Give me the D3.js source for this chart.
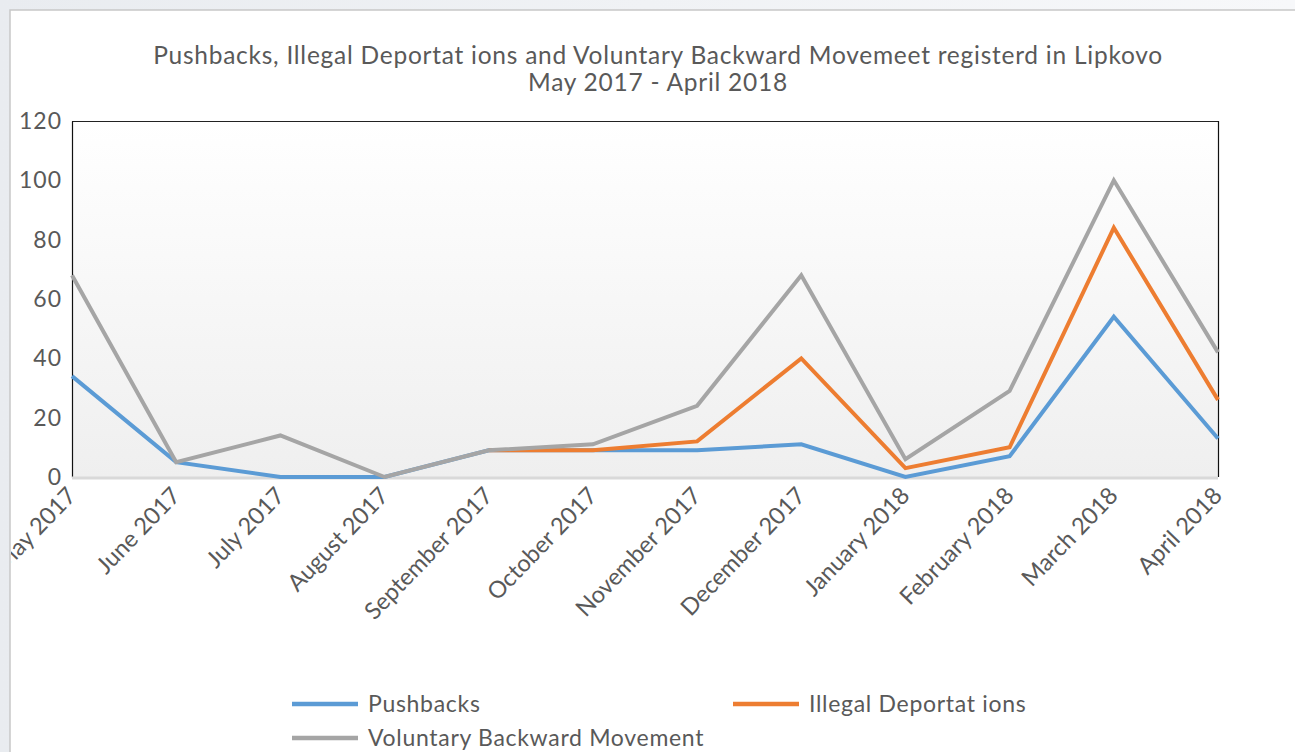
<!DOCTYPE html>
<html><head><meta charset="utf-8">
<script src="https://cdn.jsdelivr.net/npm/d3@7"></script>
<style>
html,body{margin:0;padding:0;background:#fff;}
svg{display:block;}
</style></head>
<body>
<svg id="c" width="1295" height="752"></svg>
<script>
const categories = ["May 2017","June 2017","July 2017","August 2017","September 2017","October 2017","November 2017","December 2017","January 2018","February 2018","March 2018","April 2018"];
const pushbacks = [34,5,0,0,9,9,9,11,0,7,54,13];
const illegalDeportations = [null,null,null,null,9,9,12,40,3,10,84,26];
const voluntaryBackward = [68,5,14,0,9,11,24,68,6,29,100,42];
const seriesNames = ["Pushbacks","Illegal Deportat ions","Voluntary Backward Movement"];
const seriesColors = ["#5b9bd5","#ed7d31","#a5a5a5"];
const yTicks = [0,20,40,60,80,100,120];
const titleLines = ["Pushbacks, Illegal Deportat ions and Voluntary Backward Movemeet registerd in Lipkovo","May 2017 - April 2018"];

const font = "Lato, 'Open Sans', sans-serif";
const textColor = "#595959";
const svg = d3.select("#c");

const defs = svg.append("defs");
const bg = defs.append("linearGradient").attr("id","bg").attr("x1",0).attr("y1",0).attr("x2",0).attr("y2",1);
bg.append("stop").attr("offset","0%").attr("stop-color","#ffffff");
bg.append("stop").attr("offset","100%").attr("stop-color","#efefef");
const outer = defs.append("linearGradient").attr("id","outer").attr("x1",0).attr("y1",0).attr("x2",1).attr("y2",0);
outer.append("stop").attr("offset","0%").attr("stop-color","#e9ecf0");
outer.append("stop").attr("offset","100%").attr("stop-color","#f7f8fa");
svg.append("rect").attr("x",0).attr("y",0).attr("width",1295).attr("height",752).attr("fill","url(#outer)");
svg.append("rect").attr("x",10).attr("y",10).attr("width",1290).attr("height",750).attr("fill","#fff")
  .attr("stroke","#c8c8c8").attr("stroke-width",1.5);
defs.append("clipPath").attr("id","frame").append("rect").attr("x",11).attr("y",11).attr("width",1290).attr("height",750);

const plot = {left:72,right:1218,top:121,bottom:477};
const x = d3.scalePoint().domain(categories).range([plot.left,plot.right]);
const y = d3.scaleLinear().domain([0,120]).range([plot.bottom,plot.top]);

// title (single text element, two lines)
const title = svg.append("text").attr("text-anchor","middle").attr("font-family",font)
  .attr("font-size",24.5).attr("letter-spacing",0.75).attr("fill",textColor);
title.selectAll("tspan").data(titleLines).join("tspan")
  .attr("x",658).attr("y",(d,i) => i === 0 ? 64 : 91).text(d => d);

// plot area
svg.append("rect").attr("x",plot.left).attr("y",plot.top).attr("width",plot.right-plot.left).attr("height",plot.bottom-plot.top)
  .attr("fill","url(#bg)");
svg.append("line").attr("x1",plot.left).attr("x2",plot.right).attr("y1",plot.top+0.5).attr("y2",plot.top+0.5).attr("stroke","#222").attr("stroke-width",1);
svg.append("line").attr("x1",plot.right+0.5).attr("x2",plot.right+0.5).attr("y1",plot.top).attr("y2",plot.bottom).attr("stroke","#111").attr("stroke-width",1.2);

// y axis
const yAxis = d3.axisLeft(y).tickValues(yTicks).tickSize(0).tickPadding(10);
const gy = svg.append("g").attr("transform",`translate(${plot.left},0)`).call(yAxis);
gy.select(".domain").attr("stroke","#111").attr("stroke-width",1.2);
gy.selectAll("text").attr("font-family",font).attr("font-size",23).attr("letter-spacing",1).attr("fill",textColor);

// x axis
const xAxis = d3.axisBottom(x).tickSize(0).tickPadding(0);
const gxWrap = svg.append("g").attr("clip-path","url(#frame)");
const gx = gxWrap.append("g").attr("transform",`translate(0,${plot.bottom})`).call(xAxis);
gx.select(".domain").remove();
gx.selectAll("text").attr("font-family",font).attr("font-size",23.5).attr("fill",textColor)
  .attr("text-anchor","end").attr("x",0).attr("y",0).attr("dy",0)
  .attr("transform","translate(5,20) rotate(-46)");
svg.append("line").attr("x1",plot.left).attr("x2",plot.right).attr("y1",plot.bottom+1).attr("y2",plot.bottom+1).attr("stroke","#d9d9d9").attr("stroke-width",3);

// lines
const allSeries = [pushbacks, illegalDeportations, voluntaryBackward];
const line = d3.line().defined(d => d.v !== null).x(d => x(d.c)).y(d => y(d.v));
allSeries.forEach((vals,i) => {
  const data = vals.map((v,j) => ({c:categories[j], v}));
  svg.append("path").datum(data).attr("d",line).attr("fill","none")
    .attr("stroke",seriesColors[i]).attr("stroke-width",4).attr("stroke-linejoin","miter");
});

// legend
const legendPos = [{x:292,y:704},{x:733,y:704},{x:292,y:738}];
legendPos.forEach((p,i) => {
  svg.append("line").attr("x1",p.x).attr("x2",p.x+66).attr("y1",p.y).attr("y2",p.y)
    .attr("stroke",seriesColors[i]).attr("stroke-width",4.5);
  svg.append("text").attr("x",p.x+76).attr("y",p.y).attr("dy","0.36em").attr("font-family",font)
    .attr("font-size",23).attr("letter-spacing",0.7).attr("fill",textColor).text(seriesNames[i]);
});
</script>
</body></html>
